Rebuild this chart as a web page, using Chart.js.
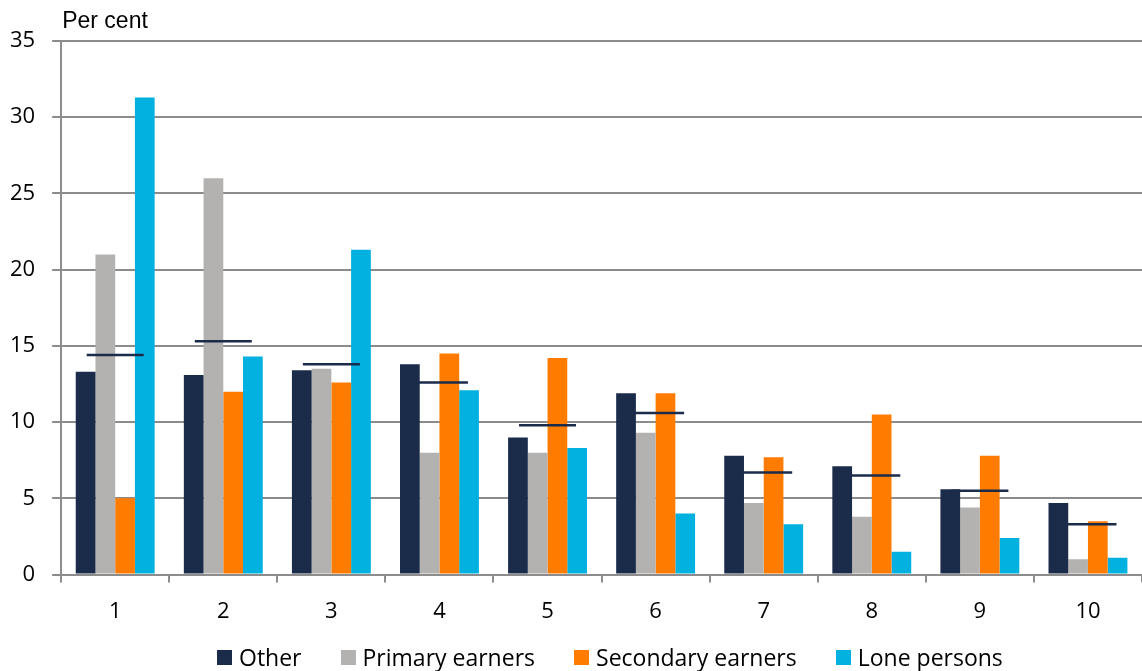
<!DOCTYPE html>
<html lang="en">
<head>
    <meta charset="utf-8">
    <title>Per cent by decile</title>
    <script src="https://cdn.jsdelivr.net/npm/chart.js@4.4.1/dist/chart.umd.min.js"></script>
    <style>
        html, body { margin: 0; padding: 0; background: #fff; }
        #wrap { position: relative; width: 1142px; height: 671px; }
        #legend {
            position: absolute; left: 217px; top: 643px; height: 28px;
            display: flex; align-items: center;
            font-family: "Open Sans", sans-serif; font-size: 23px; color: #000;
        }
        #legend .item { display: flex; align-items: center; margin-right: 39px; white-space: nowrap; }
        #legend .box { width: 15px; height: 15px; margin-right: 7px; }
    </style>
</head>
<body>
<div id="wrap">
    <canvas id="chart" width="1142" height="671"></canvas>
    <div id="legend"></div>
</div>
<script>
var categories = ["1", "2", "3", "4", "5", "6", "7", "8", "9", "10"];
var other = [13.3, 13.1, 13.4, 13.8, 9.0, 11.9, 7.8, 7.1, 5.6, 4.7];
var primaryEarners = [21.0, 26.0, 13.5, 8.0, 8.0, 9.3, 4.7, 3.8, 4.4, 1.0];
var secondaryEarners = [5.0, 12.0, 12.6, 14.5, 14.2, 11.9, 7.7, 10.5, 7.8, 3.5];
var lonePersons = [31.3, 14.3, 21.3, 12.1, 8.3, 4.0, 3.3, 1.5, 2.4, 1.1];
var average = [14.4, 15.3, 13.8, 12.6, 9.8, 10.6, 6.7, 6.5, 5.5, 3.3];
var yTicks = [0, 5, 10, 15, 20, 25, 30, 35];

var navy = '#1b2b4a';
var gridGrey = '#8c8c8c';
var tickFont = { family: '"Open Sans", sans-serif', size: 22 };

// "Per cent" label above the y axis
var unitLabel = {
    id: 'unitLabel',
    afterDraw: function(chart) {
        var ctx = chart.ctx;
        ctx.save();
        ctx.font = '23px "Liberation Sans", Arial, sans-serif';
        ctx.fillStyle = '#000';
        ctx.textBaseline = 'middle';
        ctx.textAlign = 'left';
        ctx.fillText('Per cent', chart.chartArea.left + 1, 22);
        ctx.restore();
    }
};

function bar(label, data, color) {
    return {
        label: label,
        data: data,
        backgroundColor: color,
        borderWidth: 0,
        order: 1,
        categoryPercentage: 0.73,
        barPercentage: 1.0
    };
}

var chart = new Chart(document.getElementById('chart'), {
    type: 'bar',
    data: {
        labels: categories,
        datasets: [
            bar('Other', other, navy),
            bar('Primary earners', primaryEarners, '#b3b2b0'),
            bar('Secondary earners', secondaryEarners, '#ff7c00'),
            bar('Lone persons', lonePersons, '#02b1e0'),
            {
                type: 'line',
                label: 'Average',
                data: average,
                showLine: false,
                pointStyle: 'line',
                pointRadius: 28.5,
                pointHoverRadius: 28.5,
                pointBorderWidth: 2.5,
                borderColor: navy,
                backgroundColor: navy,
                order: 0
            }
        ]
    },
    options: {
        responsive: false,
        animation: false,
        layout: { autoPadding: false, padding: { top: 41, right: 0, left: -7, bottom: 31 } },
        plugins: {
            tooltip: { enabled: false },
            legend: { display: false }
        },
        scales: {
            x: {
                grid: {
                    drawOnChartArea: false,
                    color: gridGrey,
                    lineWidth: 2,
                    tickLength: 8,
                    offset: true
                },
                border: { color: gridGrey, width: 2 },
                ticks: { color: '#000', padding: 15.5, font: tickFont }
            },
            y: {
                min: 0,
                max: 35,
                afterBuildTicks: function(axis) {
                    axis.ticks = yTicks.map(function(v) { return { value: v }; });
                },
                grid: { color: gridGrey, lineWidth: 2, tickLength: 9 },
                border: { color: gridGrey, width: 2 },
                ticks: { color: '#000', padding: 17, font: tickFont }
            }
        }
    },
    plugins: [unitLabel]
});

// legend built from the bar datasets
var legend = document.getElementById('legend');
chart.data.datasets.forEach(function(ds) {
    if (ds.type === 'line') return;
    var item = document.createElement('div');
    item.className = 'item';
    var box = document.createElement('span');
    box.className = 'box';
    box.style.background = ds.backgroundColor;
    item.appendChild(box);
    item.appendChild(document.createTextNode(ds.label));
    legend.appendChild(item);
});
</script>
</body>
</html>
